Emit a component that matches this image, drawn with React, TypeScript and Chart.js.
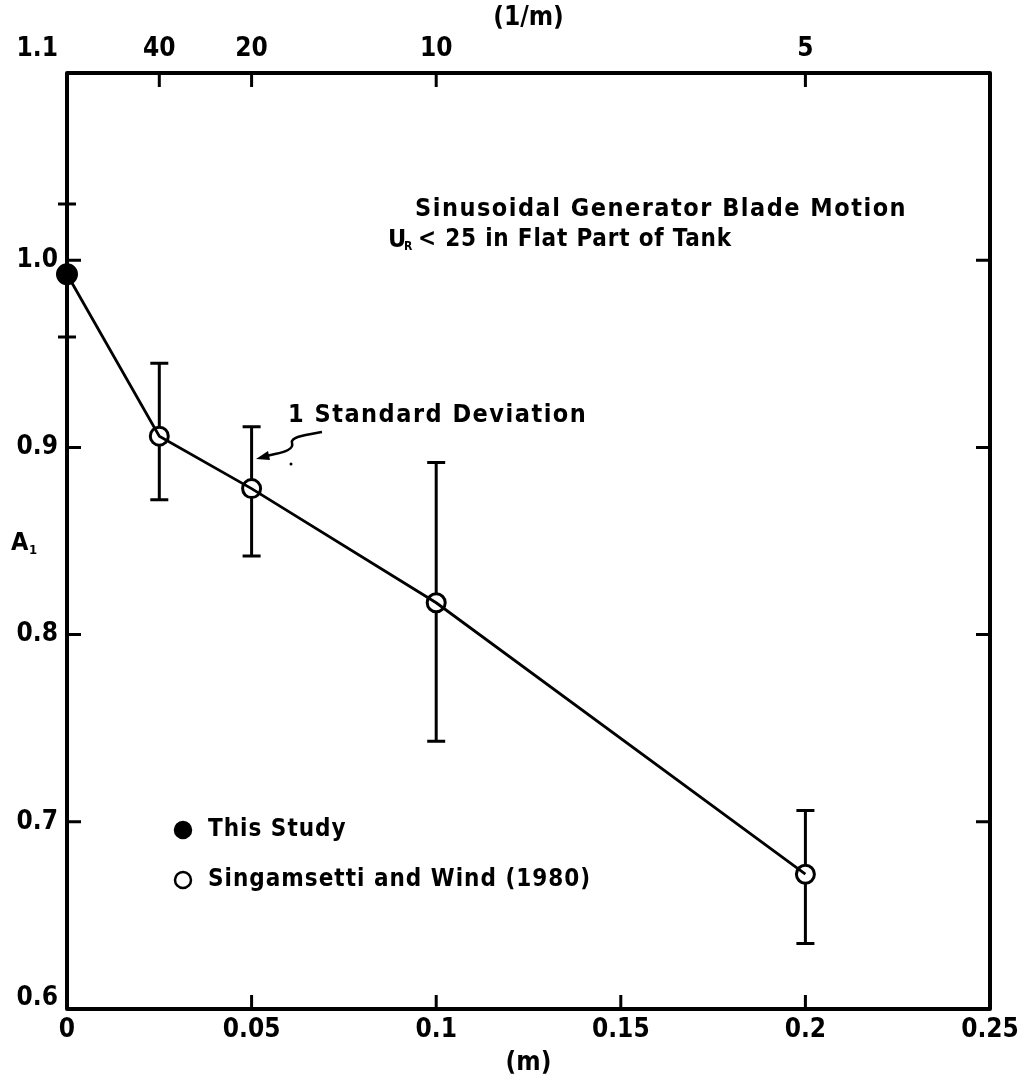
import React, { useEffect, useRef } from "react";
import { Chart, registerables } from "chart.js";

Chart.register(...registerables);

// ---- data ----
const thisStudyX = [0];
const thisStudyY = [0.9925];
const thisStudyLo = [0.959];
const thisStudyHi = [1.03];

const singX = [0.025, 0.05, 0.1, 0.2];
const singY = [0.906, 0.878, 0.817, 0.672];
const singLo = [0.872, 0.842, 0.743, 0.635];
const singHi = [0.945, 0.911, 0.892, 0.706];

const bottomTicks = [0, 0.05, 0.1, 0.15, 0.2, 0.25];
const bottomInnerTicks = [0.05, 0.1, 0.15, 0.2];
const topTicks = [0.025, 0.05, 0.1, 0.2];
const yTicks = [0.6, 0.7, 0.8, 0.9, 1.0, 1.1];
const yInnerTicks = [0.7, 0.8, 0.9, 1.0];

const FONT = '"DejaVu Sans Condensed", "DejaVu Sans", sans-serif';

const fmtX = (v: number) => String(Math.round(v * 100) / 100);

const decorPlugin = {
  id: "decor",
  beforeDatasetsDraw(chart: any) {
    const ctx = chart.ctx;
    const xs = chart.scales.x;
    const ys = chart.scales.y;
    ctx.save();
    ctx.strokeStyle = "#000";
    ctx.lineWidth = 3;
    ctx.lineCap = "butt";
    const bars = [
      { x: thisStudyX, lo: thisStudyLo, hi: thisStudyHi },
      { x: singX, lo: singLo, hi: singHi },
    ];
    bars.forEach((b) => {
      b.x.forEach((xv, i) => {
        const px = xs.getPixelForValue(xv);
        const pl = ys.getPixelForValue(b.lo[i]);
        const ph = ys.getPixelForValue(b.hi[i]);
        ctx.beginPath();
        ctx.moveTo(px, pl);
        ctx.lineTo(px, ph);
        ctx.moveTo(px - 9, pl);
        ctx.lineTo(px + 9, pl);
        ctx.moveTo(px - 9, ph);
        ctx.lineTo(px + 9, ph);
        ctx.stroke();
      });
    });
    ctx.restore();
  },
  afterDraw(chart: any) {
    const ctx = chart.ctx;
    const { left, right, top, bottom } = chart.chartArea;
    const xs = chart.scales.x;
    const ys = chart.scales.y;
    ctx.save();
    // frame
    ctx.strokeStyle = "#000";
    ctx.lineWidth = 4;
    ctx.lineJoin = "round";
    ctx.strokeRect(left, top, right - left, bottom - top);
    // inward ticks
    ctx.lineWidth = 3;
    const TL = 14;
    ctx.beginPath();
    bottomInnerTicks.forEach((v) => {
      const px = xs.getPixelForValue(v);
      ctx.moveTo(px, bottom);
      ctx.lineTo(px, bottom - TL);
    });
    topTicks.forEach((v) => {
      const px = xs.getPixelForValue(v);
      ctx.moveTo(px, top);
      ctx.lineTo(px, top + TL);
    });
    yInnerTicks.forEach((v) => {
      const py = ys.getPixelForValue(v);
      ctx.moveTo(left, py);
      ctx.lineTo(left + TL, py);
      ctx.moveTo(right, py);
      ctx.lineTo(right - TL, py);
    });
    ctx.stroke();

    ctx.fillStyle = "#000";
    ctx.textBaseline = "middle";

    // y tick labels from the scale's ticks (end labels sit off the corners)
    ctx.textAlign = "right";
    ctx.font = `bold 26px ${FONT}`;
    ys.ticks.forEach((t: any) => {
      let py = ys.getPixelForValue(t.value);
      if (t.value === ys.max) py -= 24;
      if (t.value === ys.min) py -= 11;
      ctx.fillText(Number(t.value).toFixed(1), left - 9, py);
    });

    ctx.textAlign = "left";
    // y-axis label A1
    ctx.font = `bold 25px ${FONT}`;
    ctx.fillText("A", 11, 543);
    ctx.font = `bold 13px ${FONT}`;
    ctx.fillText("1", 29, 551);

    // annotations
    (ctx as any).letterSpacing = "1.5px";
    ctx.font = `bold 25px ${FONT}`;
    ctx.fillText("Sinusoidal Generator Blade Motion", 415, 209);
    (ctx as any).letterSpacing = "0px";
    ctx.font = `bold 25px ${FONT}`;
    ctx.fillText("U", 388, 240);
    ctx.font = `bold 12px ${FONT}`;
    ctx.fillText("R", 404, 247);
    (ctx as any).letterSpacing = "0.8px";
    ctx.font = `bold 24px ${FONT}`;
    ctx.fillText("< 25 in Flat Part of Tank", 418, 240);
    (ctx as any).letterSpacing = "1.5px";
    ctx.font = `bold 25px ${FONT}`;
    ctx.fillText("1 Standard Deviation", 288, 415);
    (ctx as any).letterSpacing = "0px";

    // arrow squiggle
    ctx.lineWidth = 2.5;
    ctx.beginPath();
    ctx.moveTo(322, 432);
    ctx.bezierCurveTo(305, 435, 290, 437, 292, 443);
    ctx.bezierCurveTo(294, 449, 285, 452, 275, 454);
    ctx.lineTo(262, 457);
    ctx.stroke();
    ctx.beginPath();
    ctx.moveTo(256, 459);
    ctx.lineTo(268, 451);
    ctx.lineTo(270, 460);
    ctx.closePath();
    ctx.fill();
    ctx.beginPath();
    ctx.arc(291, 464, 1.5, 0, Math.PI * 2);
    ctx.fill();

    // legend
    const ds = chart.data.datasets;
    const items = [ds[1], ds[2]];
    const ly = [830, 880];
    items.forEach((d: any, i: number) => {
      const cx = 183;
      const cy = ly[i];
      ctx.beginPath();
      ctx.arc(cx, cy, 8, 0, Math.PI * 2);
      ctx.fillStyle = d.backgroundColor;
      ctx.fill();
      ctx.lineWidth = 2.5;
      ctx.strokeStyle = "#000";
      ctx.stroke();
      ctx.fillStyle = "#000";
      (ctx as any).letterSpacing = "1px";
      ctx.font = `bold 24px ${FONT}`;
      ctx.fillText(d.label, 208, cy);
      (ctx as any).letterSpacing = "0px";
    });
    ctx.restore();
  },
};

export default function App() {
  const ref = useRef<HTMLCanvasElement | null>(null);
  useEffect(() => {
    if (!ref.current) return;
    const tickFont = { family: FONT, size: 26, weight: "bold" as const };
    const allX = [...thisStudyX, ...singX];
    const allY = [...thisStudyY, ...singY];
    const chart = new Chart(ref.current, {
      type: "scatter",
      data: {
        datasets: [
          {
            label: "line",
            data: allX.map((x, i) => ({ x, y: allY[i] })),
            showLine: true,
            borderColor: "#000",
            borderWidth: 2.8,
            pointRadius: 0,
            clip: false as any,
          },
          {
            label: "This Study",
            data: thisStudyX.map((x, i) => ({ x, y: thisStudyY[i] })),
            backgroundColor: "#000",
            borderColor: "#000",
            borderWidth: 2,
            pointRadius: 10,
            clip: false as any,
          },
          {
            label: "Singamsetti and Wind (1980)",
            data: singX.map((x, i) => ({ x, y: singY[i] })),
            backgroundColor: "#fff",
            borderColor: "#000",
            borderWidth: 3,
            pointRadius: 9,
            clip: false as any,
          },
        ],
      },
      options: {
        responsive: false,
        animation: false,
        devicePixelRatio: 1,
        layout: { padding: { left: 0, right: 44, top: 0, bottom: 0 } },
        plugins: { legend: { display: false }, tooltip: { enabled: false } },
        scales: {
          x: {
            type: "linear",
            position: "bottom",
            min: 0,
            max: 0.25,
            afterBuildTicks: (s: any) => {
              s.ticks = bottomTicks.map((v) => ({ value: v }));
            },
            afterFit: (s: any) => {
              s.height = 73;
            },
            ticks: {
              callback: (v: any) => fmtX(Number(v)),
              font: tickFont,
              color: "#000",
              padding: 6,
              maxRotation: 0,
              autoSkip: false,
            },
            grid: { display: false, drawTicks: false },
            border: { display: false },
            title: {
              display: true,
              text: "(m)",
              font: tickFont,
              color: "#000",
              padding: { top: 0, bottom: 3 },
            },
          },
          x2: {
            type: "linear",
            position: "top",
            min: 0,
            max: 0.25,
            afterBuildTicks: (s: any) => {
              s.ticks = topTicks.map((v) => ({ value: v }));
            },
            afterFit: (s: any) => {
              s.height = 73;
            },
            ticks: {
              callback: (v: any) => String(Math.round(1 / Number(v))),
              font: tickFont,
              color: "#000",
              padding: 8,
              maxRotation: 0,
              autoSkip: false,
            },
            grid: { display: false, drawTicks: false },
            border: { display: false },
            title: {
              display: true,
              text: "(1/m)",
              font: tickFont,
              color: "#000",
              padding: { top: 3, bottom: 0 },
            },
          },
          y: {
            type: "linear",
            position: "left",
            min: 0.6,
            max: 1.1,
            afterBuildTicks: (s: any) => {
              s.ticks = yTicks.map((v) => ({ value: v }));
            },
            afterFit: (s: any) => {
              s.width = 67;
            },
            ticks: { display: false },
            grid: { display: false, drawTicks: false },
            border: { display: false },
          },
        },
      },
      plugins: [decorPlugin],
    });
    return () => chart.destroy();
  }, []);
  return (
    <div style={{ position: "fixed", left: 0, top: 0, width: 1034, height: 1082, background: "#fff" }}>
      <canvas ref={ref} width={1034} height={1082} style={{ width: 1034, height: 1082, display: "block" }} />
    </div>
  );
}
